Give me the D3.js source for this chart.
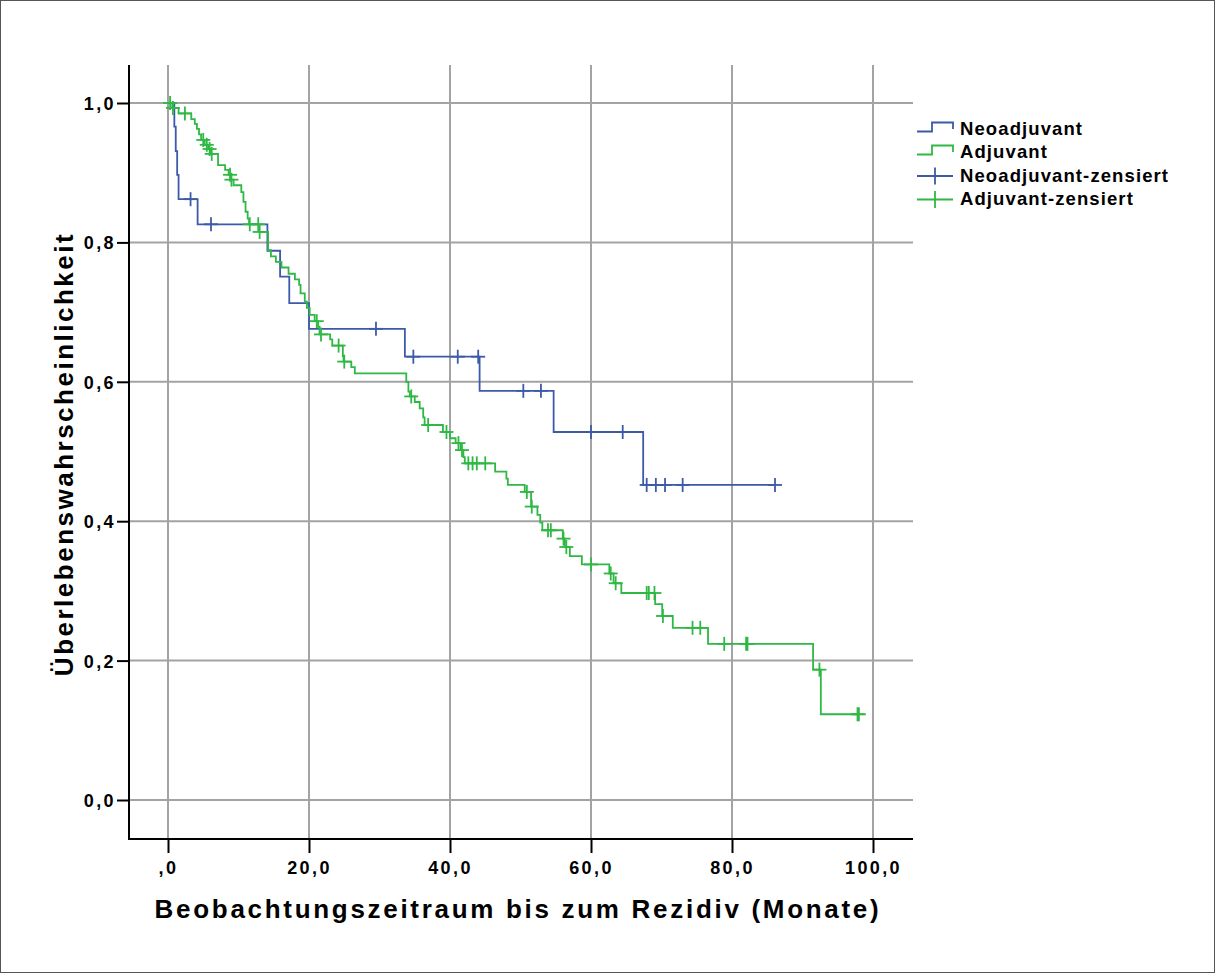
<!DOCTYPE html>
<html>
<head>
<meta charset="utf-8">
<script src="https://d3js.org/d3.v7.min.js"></script>
<style>
  body { margin: 0; background: #fff; }
  text { font-family: "Liberation Sans", Arial, Helvetica, sans-serif; font-weight: bold; fill: #000; }
</style>
</head>
<body>
<div id="chart"></div>
<script>
// Neoadjuvant: event times (months) and survival after each step
var neoTimes = [0.9, 1.1, 1.3, 1.5, 4.2, 14.1, 15.9, 17.2, 20.0, 33.6, 44.2, 54.7, 67.4];
var neoSurv  = [0.966, 0.931, 0.897, 0.862, 0.826, 0.788, 0.751, 0.713, 0.676, 0.636, 0.587, 0.528, 0.452];
var neoCensored = [3.2, 6.1, 29.5, 34.8, 41.1, 44.0, 50.4, 52.9, 60.0, 64.5, 67.9, 69.2, 70.5, 73.0, 86.1];

// Adjuvant
var adjTimes = [0.6, 1.5, 3.3, 3.8, 4.1, 4.4, 4.7, 5.2, 5.7, 6.0, 7.1, 8.1, 8.6, 8.9, 9.3,
    10.4, 10.7, 11.0, 11.3, 11.5, 12.9, 14.2, 14.6, 15.3, 16.1, 17.1, 18.0, 18.6, 18.8, 19.4,
    19.7, 20.1, 20.8, 21.3, 21.5, 23.0, 23.3, 24.8, 24.9, 26.0, 26.5, 33.8, 34.1, 34.3, 35.0,
    35.7, 36.2, 36.4, 39.0, 40.0, 40.8, 41.5, 41.9, 42.1, 46.4, 48.0, 48.2, 50.6, 51.5, 52.4,
    52.8, 53.1, 56.0, 56.3, 57.0, 58.7, 62.6, 63.2, 64.3, 69.1, 70.1, 71.6, 76.6, 91.5, 92.6];
var adjSurv = [0.993, 0.985, 0.977, 0.970, 0.963, 0.955, 0.947, 0.940, 0.934, 0.927, 0.911, 0.904, 0.897, 0.890, 0.882,
    0.872, 0.858, 0.844, 0.834, 0.826, 0.815, 0.789, 0.780, 0.772, 0.764, 0.755, 0.747, 0.739, 0.727, 0.715,
    0.706, 0.696, 0.687, 0.679, 0.668, 0.661, 0.652, 0.637, 0.629, 0.621, 0.612, 0.600, 0.586, 0.579, 0.571,
    0.562, 0.549, 0.538, 0.528, 0.519, 0.512, 0.502, 0.492, 0.483, 0.471, 0.461, 0.452, 0.442, 0.421, 0.409,
    0.398, 0.387, 0.375, 0.363, 0.350, 0.338, 0.325, 0.311, 0.297, 0.281, 0.264, 0.247, 0.224, 0.187, 0.123];
var adjCensored = [0.3, 0.7, 2.4, 5.0, 5.5, 5.9, 6.2, 8.8, 9.0, 11.6, 12.8, 13.0, 21.1, 21.7, 24.2, 25.0,
    34.5, 36.9, 39.5, 41.2, 41.7, 42.6, 43.2, 43.8, 45.0, 50.9, 51.6, 53.9, 54.3, 56.1, 56.5, 60.0,
    62.8, 63.5, 67.9, 68.2, 69.0, 70.2, 74.4, 75.5, 78.9, 82.0, 82.2, 92.4, 97.8, 98.0];

var xTicks = [0, 20, 40, 60, 80, 100];
var xTickLabels = [",0", "20,0", "40,0", "60,0", "80,0", "100,0"];
var yTicks = [0, 0.2, 0.4, 0.6, 0.8, 1.0];
var yTickLabels = ["0,0", "0,2", "0,4", "0,6", "0,8", "1,0"];

var legendLabels = ["Neoadjuvant", "Adjuvant", "Neoadjuvant-zensiert", "Adjuvant-zensiert"];

var w = 1215, h = 974;
var blue = "#3d5aa8", green = "#2fb844", gridColor = "#a3a3a3";

// plot frame
var plotLeft = 129, plotRight = 913, plotTop = 65, plotBottom = 839;

var xScale = d3.scaleLinear().domain([0, 100]).range([168, 873]);
var yScale = d3.scaleLinear().domain([0, 1]).range([800, 103]);

var svg = d3.select("#chart").append("svg")
    .attr("width", w)
    .attr("height", h);

// outer border
svg.append("rect")
    .attr("x", 0.5).attr("y", 0.5)
    .attr("width", w - 1).attr("height", h - 2)
    .attr("fill", "#fff")
    .attr("stroke", "#555");

// grid
svg.selectAll(".hgrid")
    .data(yTicks)
    .enter().append("line")
    .attr("x1", plotLeft).attr("x2", plotRight)
    .attr("y1", function(d) { return yScale(d); })
    .attr("y2", function(d) { return yScale(d); })
    .attr("stroke", gridColor).attr("stroke-width", 2);

svg.selectAll(".vgrid")
    .data(xTicks)
    .enter().append("line")
    .attr("y1", plotTop).attr("y2", plotBottom)
    .attr("x1", function(d) { return xScale(d); })
    .attr("x2", function(d) { return xScale(d); })
    .attr("stroke", gridColor).attr("stroke-width", 2);

// axes
var xAxis = d3.axisBottom(xScale)
    .tickValues(xTicks)
    .tickSize(14)
    .tickSizeOuter(0)
    .tickPadding(8)
    .tickFormat(function(d, i) { return xTickLabels[i]; });

var yAxis = d3.axisLeft(yScale)
    .tickValues(yTicks)
    .tickSize(12)
    .tickSizeOuter(0)
    .tickPadding(1)
    .tickFormat(function(d, i) { return yTickLabels[i]; });

var gx = svg.append("g")
    .attr("transform", "translate(0," + plotBottom + ")")
    .call(xAxis);
var gy = svg.append("g")
    .attr("transform", "translate(" + plotLeft + ",0)")
    .call(yAxis);

[gx, gy].forEach(function(g) {
    g.select(".domain").remove();
    g.selectAll(".tick line").attr("stroke", "#000").attr("stroke-width", 2);
    g.selectAll(".tick text")
        .style("font-size", "18px")
        .style("letter-spacing", "2.4px")
        .attr("fill", "#000");
});
gy.selectAll(".tick text").attr("dy", "0.36em");

svg.append("line")
    .attr("x1", plotLeft).attr("x2", plotLeft)
    .attr("y1", plotTop).attr("y2", plotBottom + 1)
    .attr("stroke", "#000").attr("stroke-width", 2);
svg.append("line")
    .attr("x1", plotLeft - 1).attr("x2", plotRight)
    .attr("y1", plotBottom).attr("y2", plotBottom)
    .attr("stroke", "#000").attr("stroke-width", 2);

// axis titles
svg.append("text")
    .attr("x", (plotLeft + plotRight) / 2 - 3)
    .attr("y", 918)
    .attr("text-anchor", "middle")
    .style("font-size", "26px")
    .style("letter-spacing", "2.7px")
    .text("Beobachtungszeitraum bis zum Rezidiv (Monate)");

svg.append("text")
    .attr("transform", "translate(73,454) rotate(-90)")
    .attr("text-anchor", "middle")
    .style("font-size", "26px")
    .style("letter-spacing", "2.5px")
    .text("Überlebenswahrscheinlichkeit");

// step survival curves
function stepPath(times, surv, end) {
    var p = d3.path();
    p.moveTo(xScale(0), yScale(1));
    times.forEach(function(t, i) {
        p.lineTo(xScale(t), yScale(i === 0 ? 1 : surv[i - 1]));
        p.lineTo(xScale(t), yScale(surv[i]));
    });
    p.lineTo(xScale(end), yScale(surv[surv.length - 1]));
    return p.toString();
}

function survAt(times, surv, t) {
    var s = 1;
    times.forEach(function(tt, i) { if (tt <= t) s = surv[i]; });
    return s;
}

var groups = [
    {times: neoTimes, surv: neoSurv, cens: neoCensored, color: blue},
    {times: adjTimes, surv: adjSurv, cens: adjCensored, color: green}
];

groups.forEach(function(g) {
    svg.append("path")
        .attr("d", stepPath(g.times, g.surv, d3.max(g.cens)))
        .attr("fill", "none")
        .attr("stroke", g.color)
        .attr("stroke-width", 1.8);

    var marks = svg.append("g").selectAll("g")
        .data(g.cens)
        .enter().append("g")
        .attr("transform", function(d) {
            return "translate(" + xScale(d) + "," + yScale(survAt(g.times, g.surv, d)) + ")";
        });
    marks.append("line").attr("x1", -7).attr("x2", 7)
        .attr("stroke", g.color).attr("stroke-width", 1.8);
    marks.append("line").attr("y1", -7).attr("y2", 7)
        .attr("stroke", g.color).attr("stroke-width", 1.8);
});

// legend
var legend = svg.append("g").attr("transform", "translate(917,0)");
var legendBase = [135, 158, 181.5, 205];
var legendColors = [blue, green, blue, green];

legendLabels.forEach(function(lab, i) {
    var yb = legendBase[i];
    if (i < 2) {
        legend.append("path")
            .attr("d", "M0," + (yb - 3.5) + "H15V" + (yb - 12.5) + "H36V" + (yb - 6))
            .attr("fill", "none")
            .attr("stroke", legendColors[i])
            .attr("stroke-width", 1.8);
    } else {
        legend.append("line")
            .attr("x1", 0).attr("x2", 36)
            .attr("y1", yb - 5.5).attr("y2", yb - 5.5)
            .attr("stroke", legendColors[i]).attr("stroke-width", 1.8);
        legend.append("line")
            .attr("x1", 18).attr("x2", 18)
            .attr("y1", yb - 14).attr("y2", yb + 3)
            .attr("stroke", legendColors[i]).attr("stroke-width", 1.8);
    }
    legend.append("text")
        .attr("x", 43)
        .attr("y", yb)
        .style("font-size", "18.5px")
        .style("letter-spacing", "1.1px")
        .text(lab);
});
</script>
</body>
</html>
